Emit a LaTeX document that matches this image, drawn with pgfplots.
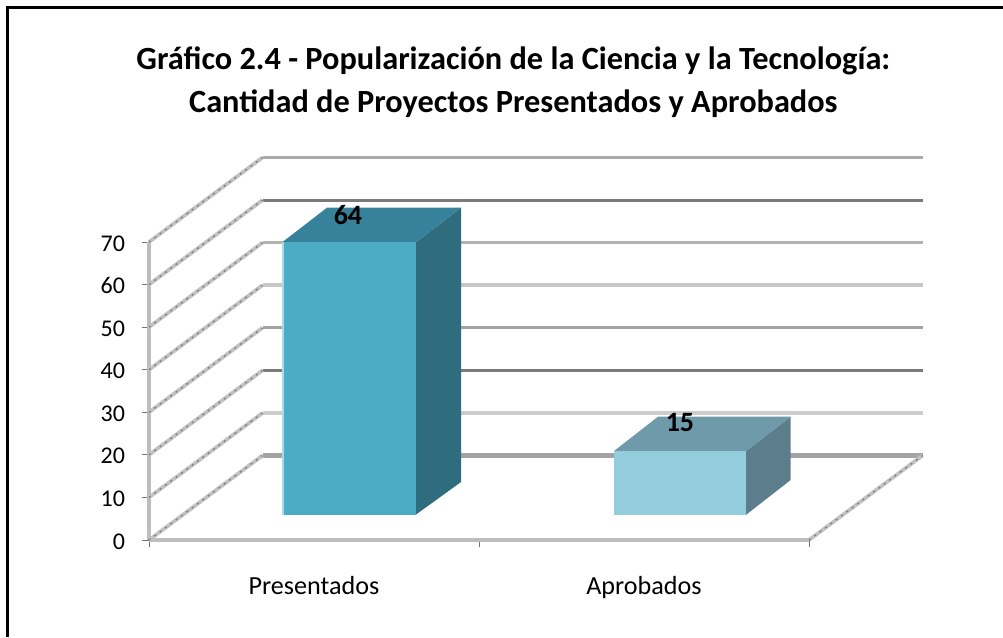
\documentclass[border=0pt]{standalone}
\usepackage{fontspec}
\setmainfont{Carlito}
\usepackage{pgfplots}
\usepackage{pgfplotstable}
\pgfplotsset{compat=1.18}
\definecolor{barA}{HTML}{4BACC6}
\definecolor{barAside}{HTML}{2F6C7E}
\definecolor{barAtop}{HTML}{38819A}
\definecolor{barAedge}{HTML}{A8DCE8}
\definecolor{barB}{HTML}{93CDDD}
\definecolor{barBside}{HTML}{5C7E8C}
\definecolor{barBtop}{HTML}{6F9AA9}
\definecolor{wallline}{HTML}{BDBDBD}

% bars stand in the middle of the floor, so the front faces start above 0
\pgfplotstableread{
x     offset presentados aprobados
0.608 5.9    64          0
1.609 5.9    0           15
}\bardata

\pgfplotsset{
  chartbox/.style={
    at={(111.75pt,72.75pt)}, anchor=south west,
    scale only axis, width=495pt, height=223.5pt,
    xmin=0, xmax=2, ymin=0, ymax=70, clip=false,
  },
  floorline/.style={draw=#1, line width=2.6pt},
  diag/.style={draw=black!24, line width=2.8pt},
  diagdots/.style={draw=black!50, line width=1pt, dash pattern=on 1.5pt off 3.5pt},
}

\begin{document}
\begin{tikzpicture}
\path[use as bounding box] (0,0) rectangle (752.25pt,477.75pt);
\fill[white] (0,0) rectangle (752.25pt,477.75pt);
\draw[black, line width=2.4pt] (5.4pt,0) -- (5.4pt,472.4pt) -- (752.25pt,472.4pt);
\node[font=\bfseries\fontsize{24.25}{32.2}\selectfont, align=center] at (385pt,416pt)
  {Gráfico 2.4 - Popularización de la Ciencia y la Tecnología:\\Cantidad de Proyectos Presentados y Aprobados};

\begin{axis}[
  chartbox,
  axis x line=bottom, axis y line=left,
  axis line style={draw=wallline, line width=2.8pt, -},
  every axis x line/.append style={-},
  every axis y line/.append style={-},
  tick align=outside,
  ytick={0,10,...,70},
  xtick={0,1,2}, xticklabels={},
  major tick length=5.5pt,
  tick style={draw=black!55, line width=0.7pt},
  extra x ticks={0.5,1.5}, extra x tick labels={Presentados,Aprobados},
  extra x tick style={major tick length=0pt},
  /pgf/number format/assume math mode=true,
  xticklabel style={font=\fontsize{19.6}{21}\selectfont, yshift=-23.5pt},
  yticklabel style={font=\fontsize{18}{20}\selectfont, xshift=-9pt, yshift=-1pt},
]
% back wall lines
\addplot[floorline=black!33, line width=2.2pt] coordinates {(0.344,89.85) (2.344,89.85)};
\addplot[floorline=black!52, line width=2.2pt] coordinates {(0.344,79.85) (2.344,79.85)};
\addplot[floorline=black!30, line width=2.2pt] coordinates {(0.344,69.85) (2.344,69.85)};
\addplot[floorline=black!22, line width=3.4pt] coordinates {(0.344,59.85) (2.344,59.85)};
\addplot[floorline=black!36, line width=2.2pt] coordinates {(0.344,49.85) (2.344,49.85)};
\addplot[floorline=black!52, line width=2.2pt] coordinates {(0.344,39.85) (2.344,39.85)};
\addplot[floorline=black!20, line width=3.4pt] coordinates {(0.344,29.85) (2.344,29.85)};
\addplot[floorline=black!36, line width=3.4pt] coordinates {(0.344,19.85) (2.344,19.85)};
% side wall lines
\addplot[diag] coordinates {(0,70) (0.344,89.85)};
\addplot[diag] coordinates {(0,60) (0.344,79.85)};
\addplot[diag] coordinates {(0,50) (0.344,69.85)};
\addplot[diag] coordinates {(0,40) (0.344,59.85)};
\addplot[diag] coordinates {(0,30) (0.344,49.85)};
\addplot[diag] coordinates {(0,20) (0.344,39.85)};
\addplot[diag] coordinates {(0,10) (0.344,29.85)};
\addplot[diag] coordinates {(0,0) (0.344,19.85)};
\addplot[diag] coordinates {(2,0) (2.344,19.85)};
\addplot[diagdots] coordinates {(0,70) (0.344,89.85)};
\addplot[diagdots] coordinates {(0,60) (0.344,79.85)};
\addplot[diagdots] coordinates {(0,50) (0.344,69.85)};
\addplot[diagdots] coordinates {(0,40) (0.344,59.85)};
\addplot[diagdots] coordinates {(0,30) (0.344,49.85)};
\addplot[diagdots] coordinates {(0,20) (0.344,39.85)};
\addplot[diagdots] coordinates {(0,10) (0.344,29.85)};
\addplot[diagdots] coordinates {(0,0) (0.344,19.85)};
\addplot[diagdots] coordinates {(2,0) (2.344,19.85)};
% bar sides and tops
\addplot[fill=barAside, draw=none] coordinates {(0.8076,5.9) (0.9455,13.62) (0.9455,78.06) (0.8076,69.9)} -- cycle;
\addplot[fill=barAtop, draw=none] coordinates {(0.4030,69.9) (0.5394,78.06) (0.9455,78.06) (0.8076,69.9)} -- cycle;
\addplot[fill=barAedge, draw=none] coordinates {(0.4030,5.9) (0.4090,5.9) (0.4090,69.9) (0.4030,69.9)} -- cycle;
\addplot[fill=barBside, draw=none] coordinates {(1.809,5.9) (1.9445,14.1) (1.9445,28.96) (1.809,20.9)} -- cycle;
\addplot[fill=barBtop, draw=none] coordinates {(1.409,20.9) (1.5424,28.96) (1.9445,28.96) (1.809,20.9)} -- cycle;
\end{axis}

\begin{axis}[
  chartbox, hide axis,
  ybar stacked, bar width=99pt,
]
\addplot[fill=none, draw=none] table[x=x, y=offset] {\bardata};
\addplot[fill=barA, draw=none] table[x=x, y=presentados] {\bardata};
\addplot[fill=barB, draw=none] table[x=x, y=aprobados] {\bardata};
\node[font=\bfseries\fontsize{21}{23}\selectfont] at (axis cs:0.603,76.3) {64};
\node[font=\bfseries\fontsize{21}{23}\selectfont] at (axis cs:1.609,27.5) {15};
\end{axis}
\end{tikzpicture}
\end{document}
